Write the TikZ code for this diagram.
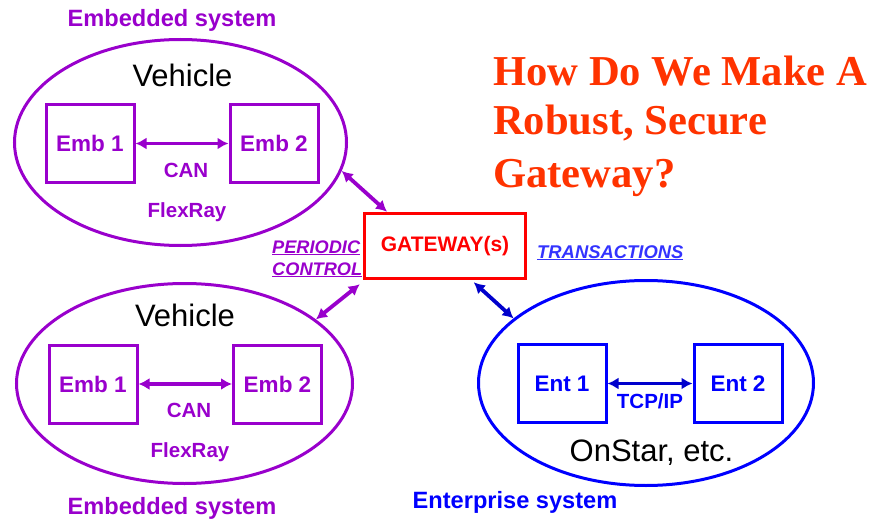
\documentclass[tikz,border=0pt]{standalone}
\usepackage{fontspec}
\setmainfont{Liberation Sans}
\newfontfamily\titlefont{Liberation Serif}
\usetikzlibrary{shapes.geometric,arrows.meta}
\definecolor{pur}{HTML}{9900CC}
\definecolor{ttl}{HTML}{FF3300}
\definecolor{trblue}{HTML}{3333FF}
\definecolor{entblue}{HTML}{0000FF}
\definecolor{arrblue}{HTML}{0000CC}
\definecolor{gwred}{HTML}{FF0000}
\newcommand{\fs}[1]{\fontsize{#1}{#1}\selectfont}
\tikzset{
  sysell/.style={draw, ellipse, line width=3pt, inner sep=0pt},
  unitbox/.style={draw, rectangle, line width=3pt, minimum width=88pt, minimum height=78pt, inner sep=0pt, font=\fs{22.5}\bfseries},
  lbl/.style={anchor=base, inner sep=0pt},
  dbl/.style={{Latex[length=11pt,width=12pt]}-{Latex[length=11pt,width=12pt]}, line width=3.8pt},
}
\begin{document}
\begin{tikzpicture}[x=1pt,y=-1pt]
\useasboundingbox (0,0) rectangle (871,519);
% ellipses
\node[sysell, pur, minimum width=332pt, minimum height=206pt] (ell1) at (180.5,142.5) {};
\node[sysell, pur, minimum width=336pt, minimum height=200pt] (ell2) at (184.5,383.5) {};
\node[sysell, entblue, minimum width=335pt, minimum height=205pt] (ell3) at (646,383) {};
% gateway
\node[draw=gwred, line width=3.5pt, minimum width=161pt, minimum height=65pt, inner sep=0pt,
      text=gwred, font=\fs{21}\bfseries] (gw) at (445,246) {GATEWAY(s)};
% boxes
\node[unitbox, pur] (e11) at (90,143.5) {Emb 1};
\node[unitbox, pur] (e12) at (274,143.5) {Emb 2};
\node[unitbox, pur] (e21) at (93,384) {Emb 1};
\node[unitbox, pur] (e22) at (277.5,384) {Emb 2};
\node[unitbox, entblue] (t1) at (562,383.5) {Ent 1};
\node[unitbox, entblue] (t2) at (738,383.5) {Ent 2};
% inner arrows
\draw[dbl, pur] (e11) -- (e12);
\draw[dbl, pur] (e21) -- (e22);
\draw[dbl, arrblue] (t1) -- (t2);
% links to gateway
\draw[dbl, pur] (ell1.-10) -- ([xshift=-58pt]gw.north);
\draw[dbl, pur] (ell2.26) -- ([xshift=-3pt,yshift=-4pt]gw.south west);
\draw[dbl, arrblue] ([xshift=111pt,yshift=-2pt]gw.south west) -- (ell3.154.6);
% texts
\node[lbl, font=\fs{31}] (v1) at (182.5,87) {Vehicle};
\node[lbl, font=\fs{31}] (v2) at (185,326) {Vehicle};
\node[lbl, pur, font=\fs{20.5}\bfseries] (can1) at (186,177) {CAN};
\node[lbl, pur, font=\fs{20.5}\bfseries] (fr1) at (187,217) {FlexRay};
\node[lbl, pur, font=\fs{20.5}\bfseries] (can2) at (189,417) {CAN};
\node[lbl, pur, font=\fs{20.5}\bfseries] (fr2) at (190,457) {FlexRay};
\node[lbl, entblue, font=\fs{20.5}\bfseries] (tcp) at (650,408) {TCP/IP};
\node[lbl, font=\fs{31}] (on) at (651.5,461) {OnStar, etc.};
\node[lbl, pur, font=\fs{23.6}\bfseries] (es1) at (172,27) {Embedded system};
\node[lbl, pur, font=\fs{23.6}\bfseries] (es2) at (172,514) {Embedded system};
\node[lbl, entblue, font=\fs{23.6}\bfseries] (ent) at (515,508) {Enterprise system};
\node[anchor=base west, inner sep=0pt, pur, font=\fs{18.2}\bfseries\itshape] (per) at (272,253) {\underline{PERIODIC}};
\node[anchor=base west, inner sep=0pt, pur, font=\fs{18.2}\bfseries\itshape] (ctl) at (272,275) {\underline{CONTROL}};
\node[anchor=base west, inner sep=0pt, trblue, font=\fs{18.4}\bfseries\itshape] (tr) at (537,258) {\underline{TRANSACTIONS}};
\node[anchor=base west, inner sep=0pt, ttl, font=\titlefont\fs{42.6}\bfseries] (h1) at (493,85) {How Do We Make A};
\node[anchor=base west, inner sep=0pt, ttl, font=\titlefont\fs{42.6}\bfseries] (h2) at (493,135) {Robust, Secure};
\node[anchor=base west, inner sep=0pt, ttl, font=\titlefont\fs{42.6}\bfseries] (h3) at (493,187) {Gateway?};
\end{tikzpicture}
\end{document}
